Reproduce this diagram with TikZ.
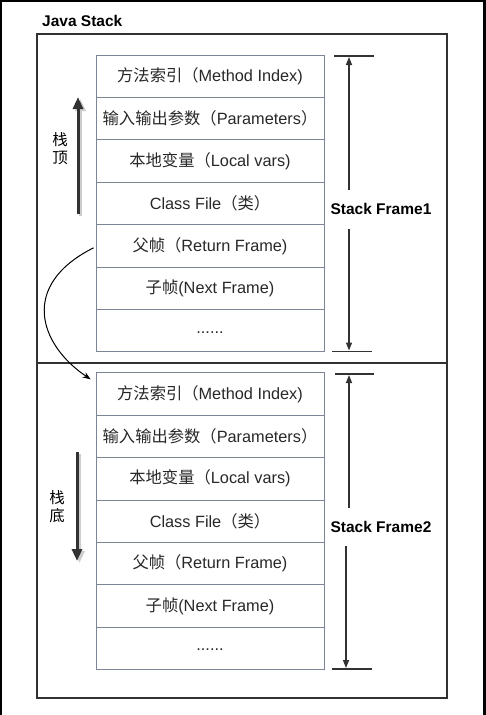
\documentclass[tikz,border=0pt]{standalone}
\usepackage{fontspec}
\setmainfont{Liberation Sans}
\newfontfamily\cjk{Noto Sans CJK SC}
\usetikzlibrary{arrows.meta}
\definecolor{boxline}{RGB}{125,134,150}
\definecolor{txt}{RGB}{40,40,40}
\definecolor{dark}{RGB}{50,50,50}
\definecolor{shade}{RGB}{205,205,205}
\begin{document}
\begin{tikzpicture}[x=1pt,y=-1pt,
  cell/.style={draw=boxline,line width=0.8pt,minimum width=228pt,minimum height=42.4pt,
    inner sep=0pt,text=txt,font=\fontsize{16.3}{19}\selectfont},
  biglabel/.style={text=black,font=\bfseries\fontsize{15.5}{18}\selectfont,inner sep=0pt},
  sidelabel/.style={text=black,font=\cjk\fontsize{15.5}{18}\selectfont,align=center,inner sep=0pt},
  bar/.style={draw=dark,line width=1.4pt},
  sizearrow/.style={draw=dark,line width=1.4pt,-{Triangle[length=8pt,width=6pt]}},
  dirarrow/.style={draw=dark,line width=3pt,-{Triangle[length=12pt,width=10pt]}},
  dirshadow/.style={draw=shade,line width=3pt,-{Triangle[length=12pt,width=10pt]}},
  callarrow/.style={draw=black,line width=1pt,-{Stealth[length=8pt,width=6pt]}}]
\useasboundingbox (0,0) rectangle (486,715);
\fill[white] (0,0) rectangle (486,715);
\fill[black] (0,0) rectangle (486,2);
\fill[black] (0,0) rectangle (2,715);
\fill[black] (483,0) rectangle (486,715);

\node[biglabel,anchor=west] (title) at (42,21) {Java Stack};
\draw[dark,line width=2.5pt] (37,34) rectangle (447,698);
\coordinate (divl) at (37,363);
\coordinate (divr) at (447,363);
\draw[dark,line width=2.5pt] (divl) -- (divr);

% frame 1
\node[cell] (a1) at (210,76.2) {{\cjk 方法索引（}Method Index)};
\node[cell] (a2) at (210,118.6) {{\cjk 输入输出参数（}Parameters{\cjk ）}};
\node[cell] (a3) at (210,161.0) {{\cjk 本地变量（}Local vars)};
\node[cell] (a4) at (210,203.4) {Class File{\cjk （类）}};
\node[cell] (a5) at (210,245.8) {{\cjk 父帧（}Return Frame)};
\node[cell] (a6) at (210,288.2) {{\cjk 子帧}(Next Frame)};
\node[cell] (a7) at (210,330.6) {\raisebox{-2.5pt}[0pt][0pt]{......}};

% frame 2
\node[cell] (b1) at (210,393.9) {{\cjk 方法索引（}Method Index)};
\node[cell] (b2) at (210,436.3) {{\cjk 输入输出参数（}Parameters{\cjk ）}};
\node[cell] (b3) at (210,478.7) {{\cjk 本地变量（}Local vars)};
\node[cell] (b4) at (210,521.1) {Class File{\cjk （类）}};
\node[cell] (b5) at (210,563.5) {{\cjk 父帧（}Return Frame)};
\node[cell] (b6) at (210,605.9) {{\cjk 子帧}(Next Frame)};
\node[cell] (b7) at (210,648.3) {\raisebox{-2.5pt}[0pt][0pt]{......}};

% size markers frame 1
\node[biglabel] (sf1) at (381,209) {Stack Frame1};
\coordinate (t1l) at (334,56); \coordinate (t1r) at (374,56);
\coordinate (t1a) at (349,57);
\coordinate (b1l) at (332,351.7); \coordinate (b1r) at (372,351.7);
\coordinate (b1a) at (349,350.5);
\draw[bar] (t1l) -- (t1r);
\draw[bar] (b1l) -- (b1r);
\draw[sizearrow] (349,190) -- (t1a);
\draw[sizearrow] (349,229) -- (b1a);

% size markers frame 2
\node[biglabel] (sf2) at (381,527) {Stack Frame2};
\coordinate (t2l) at (335,374); \coordinate (t2r) at (374,374);
\coordinate (t2a) at (349,375);
\coordinate (b2l) at (332,669); \coordinate (b2r) at (372,669);
\coordinate (b2a) at (346,668);
\draw[bar] (t2l) -- (t2r);
\draw[bar] (b2l) -- (b2r);
\draw[sizearrow] (349,508) -- (t2a);
\draw[sizearrow] (346,546) -- (b2a);

% direction arrows
\node[sidelabel] (top) at (60,149) {栈\\顶};
\coordinate (up0) at (78,214); \coordinate (up1) at (78,97);
\draw[dirshadow] (80.5,216) -- (80.5,99);
\draw[dirarrow] (up0) -- (up1);
\node[sidelabel] (bot) at (57,507) {栈\\底};
\coordinate (dn0) at (77,452); \coordinate (dn1) at (77,561);
\draw[dirshadow] (79.5,454) -- (79.5,563);
\draw[dirarrow] (dn0) -- (dn1);

% return link
\draw[callarrow] ([xshift=-2pt,yshift=-2pt]a5.west) .. controls +(-74,37) and +(-52,-35) .. ([xshift=-5pt,yshift=-7pt]b1.north west);
\end{tikzpicture}
\end{document}
